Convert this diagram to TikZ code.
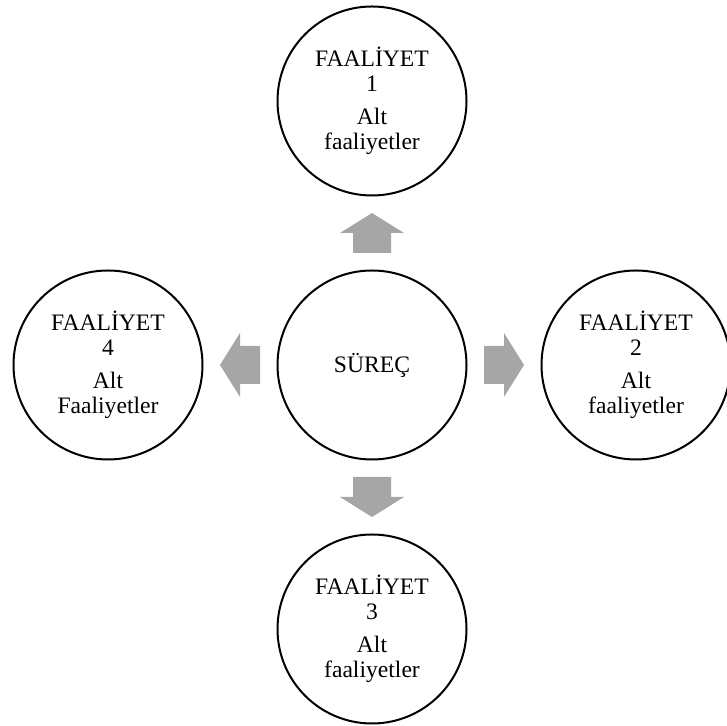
\documentclass[tikz,border=0pt]{standalone}
\usepackage{fontspec}
\setmainfont{Liberation Serif}
\usetikzlibrary{
  positioning,  % Function "of" (e.g. [above=of x])
  calc,         % Midpoints between circles
}
\def\mydist{132pt}
\def\mysize{94.5pt}
\definecolor{arrowgray}{HTML}{A6A6A6}
\tikzset{
  x=0.5pt,
  y=0.5pt,
  my circle/.style={
    draw,
    circle,
    line width=1pt,
    minimum size=\mysize,
    inner sep=0mm,
    align=center,
    font=\fontsize{11.8pt}{12.5pt}\selectfont
  },
  % Fat grey arrow, pointing right before rotation
  fat arrow/.pic={
    \fill[arrowgray] (-20,-19) -- (0,-19) -- (0,-32) -- (20,0)
                     -- (0,32) -- (0,19) -- (-20,19) -- cycle;
  }
}
\begin{document}
\begin{tikzpicture}[node distance=\mydist,on grid]
\useasboundingbox (0,0) rectangle (727,726);
\node[my circle] (proc)                 at (372,361) {SÜREÇ};
\node[my circle] (act1) [above=of proc] {FAALİYET\\1\\[4pt]Alt\\faaliyetler};
\node[my circle] (act2) [right=of proc] {FAALİYET\\2\\[4pt]Alt\\faaliyetler};
\node[my circle] (act3) [below=of proc] {FAALİYET\\3\\[4pt]Alt\\faaliyetler};
\node[my circle] (act4) [left=of proc]  {FAALİYET\\4\\[4pt]Alt\\Faaliyetler};
\path ($(proc.north)!0.5!(act1.south)$) pic[rotate=90]  {fat arrow}
      ($(proc.east)!0.5!(act2.west)$)   pic             {fat arrow}
      ($(proc.south)!0.5!(act3.north)$) pic[rotate=-90] {fat arrow}
      ($(proc.west)!0.5!(act4.east)$)   pic[rotate=180] {fat arrow};
\end{tikzpicture}
\end{document}
